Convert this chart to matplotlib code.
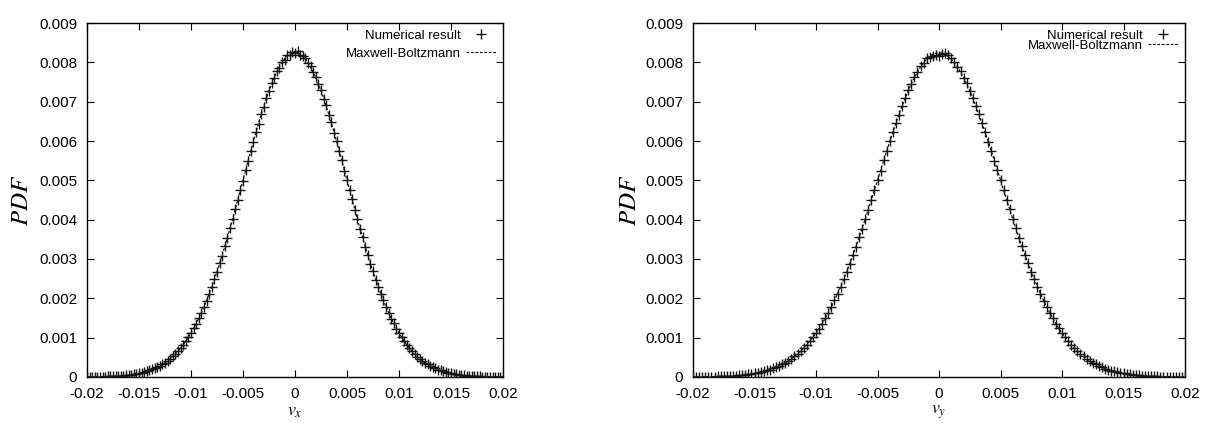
import numpy as np
import matplotlib
matplotlib.use("Agg")
import matplotlib.pyplot as plt

plt.rcParams['font.family'] = ['Liberation Sans', 'DejaVu Sans']
plt.rcParams['mathtext.fontset'] = 'stix'

# ---------------- data ----------------
v_min, v_max = -0.02, 0.02

# numerical PDF (bins of 0.00025 from -0.02 to 0.02)
pdf_vx = [
    0.000003, 0.000004, 0.000004, 0.000006, 0.000006, 0.000008, 0.000010, 0.000011, 0.000014, 0.000016,
    0.000019, 0.000022, 0.000026, 0.000031, 0.000037, 0.000043, 0.000051, 0.000059, 0.000070, 0.000081,
    0.000094, 0.000108, 0.000126, 0.000145, 0.000168, 0.000191, 0.000220, 0.000251, 0.000285, 0.000326,
    0.000368, 0.000416, 0.000470, 0.000527, 0.000592, 0.000661, 0.000741, 0.000823, 0.000915, 0.001014,
    0.001121, 0.001236, 0.001352, 0.001495, 0.001628, 0.001790, 0.001938, 0.002121, 0.002288, 0.002490,
    0.002671, 0.002890, 0.003088, 0.003325, 0.003536, 0.003785, 0.004005, 0.004268, 0.004494, 0.004762,
    0.004991, 0.005262, 0.005490, 0.005758, 0.005975, 0.006236, 0.006442, 0.006690, 0.006872, 0.007105,
    0.007262, 0.007470, 0.007598, 0.007778, 0.007862, 0.008015, 0.008062, 0.008180, 0.008185, 0.008265,
    0.008230,
    0.008290, 0.008195, 0.008172, 0.008105, 0.007980, 0.007905, 0.007745, 0.007632, 0.007441, 0.007298,
    0.007078, 0.006908, 0.006665, 0.006473, 0.006212, 0.006005, 0.005738, 0.005516, 0.005243, 0.005018,
    0.004745, 0.004518, 0.004250, 0.004028, 0.003768, 0.003556, 0.003308, 0.003105, 0.002876, 0.002685,
    0.002476, 0.002300, 0.002109, 0.001951, 0.001779, 0.001638, 0.001486, 0.001361, 0.001228, 0.001120,
    0.001006, 0.000913, 0.000815, 0.000737, 0.000653, 0.000589, 0.000519, 0.000466, 0.000408, 0.000365,
    0.000318, 0.000283, 0.000244, 0.000218, 0.000186, 0.000166, 0.000141, 0.000124, 0.000105, 0.000093,
    0.000078, 0.000069, 0.000057, 0.000050, 0.000041, 0.000036, 0.000029, 0.000025, 0.000021, 0.000018,
    0.000015, 0.000012, 0.000011, 0.000009, 0.000007, 0.000006, 0.000005, 0.000004, 0.000003, 0.000002,
]

pdf_vy = [
    0.000002, 0.000003, 0.000005, 0.000005, 0.000007, 0.000007, 0.000009, 0.000012, 0.000013, 0.000015,
    0.000019, 0.000021, 0.000026, 0.000030, 0.000037, 0.000042, 0.000050, 0.000058, 0.000069, 0.000080,
    0.000093, 0.000107, 0.000124, 0.000143, 0.000166, 0.000189, 0.000218, 0.000248, 0.000284, 0.000322,
    0.000366, 0.000412, 0.000466, 0.000525, 0.000589, 0.000658, 0.000737, 0.000820, 0.000912, 0.001011,
    0.001119, 0.001230, 0.001359, 0.001488, 0.001636, 0.001781, 0.001949, 0.002112, 0.002297, 0.002479,
    0.002682, 0.002879, 0.003101, 0.003312, 0.003549, 0.003772, 0.004022, 0.004253, 0.004511, 0.004748,
    0.005011, 0.005247, 0.005510, 0.005742, 0.005998, 0.006219, 0.006465, 0.006671, 0.006900, 0.007083,
    0.007290, 0.007448, 0.007625, 0.007752, 0.007895, 0.007978, 0.008098, 0.008125, 0.008150, 0.008175,
    0.008160,
    0.008210, 0.008240, 0.008198, 0.008110, 0.008020, 0.007880, 0.007770, 0.007605, 0.007465, 0.007272,
    0.007100, 0.006882, 0.006688, 0.006448, 0.006235, 0.005982, 0.005755, 0.005496, 0.005260, 0.004998,
    0.004760, 0.004500, 0.004265, 0.004010, 0.003782, 0.003538, 0.003322, 0.003090, 0.002888, 0.002672,
    0.002487, 0.002289, 0.002119, 0.001941, 0.001788, 0.001629, 0.001493, 0.001353, 0.001235, 0.001114,
    0.001012, 0.000907, 0.000821, 0.000731, 0.000659, 0.000583, 0.000524, 0.000461, 0.000412, 0.000361,
    0.000322, 0.000279, 0.000247, 0.000214, 0.000189, 0.000163, 0.000143, 0.000122, 0.000107, 0.000091,
    0.000080, 0.000067, 0.000059, 0.000048, 0.000043, 0.000035, 0.000031, 0.000024, 0.000022, 0.000017,
    0.000016, 0.000012, 0.000011, 0.000008, 0.000008, 0.000005, 0.000005, 0.000003, 0.000004, 0.000002,
]

# Maxwell-Boltzmann reference curve (every 0.0005 from -0.02 to 0.02)
pdf_mb = [
    0.000003, 0.000004, 0.000006, 0.000009, 0.000013, 0.000018, 0.000025, 0.000036, 0.000049, 0.000068,
    0.000092, 0.000123, 0.000164, 0.000216, 0.000281, 0.000363, 0.000463, 0.000586, 0.000734, 0.000910,
    0.001117, 0.001357, 0.001633, 0.001945, 0.002294, 0.002678, 0.003096, 0.003544, 0.004016, 0.004505,
    0.005004, 0.005503, 0.005991, 0.006457, 0.006891, 0.007281, 0.007616, 0.007887, 0.008087, 0.008209,
    0.008250,
    0.008209, 0.008087, 0.007887, 0.007616, 0.007281, 0.006891, 0.006457, 0.005991, 0.005503, 0.005004,
    0.004505, 0.004016, 0.003544, 0.003096, 0.002678, 0.002294, 0.001945, 0.001633, 0.001357, 0.001117,
    0.000910, 0.000734, 0.000586, 0.000463, 0.000363, 0.000281, 0.000216, 0.000164, 0.000123, 0.000092,
    0.000068, 0.000049, 0.000036, 0.000025, 0.000018, 0.000013, 0.000009, 0.000006, 0.000004, 0.000003,
]

x_ticks = [-0.02, -0.015, -0.01, -0.005, 0, 0.005, 0.01, 0.015, 0.02]
x_ticklabels = ['-0.02', '-0.015', '-0.01', '-0.005', '0', '0.005', '0.01', '0.015', '0.02']
y_ticks = [0, 0.001, 0.002, 0.003, 0.004, 0.005, 0.006, 0.007, 0.008, 0.009]
y_ticklabels = ['0', '0.001', '0.002', '0.003', '0.004', '0.005', '0.006', '0.007', '0.008', '0.009']

v_num = np.linspace(v_min, v_max, len(pdf_vx))
v_mb = np.linspace(v_min, v_max, len(pdf_mb))

# ---------------- figure ----------------
W, H = 1205, 424
fig = plt.figure(figsize=(W / 100, H / 100), dpi=100)

panels = [
    dict(rect=(87, 23, 503, 377), pdf=pdf_vx, xlabel=r'$v_x$', ylab_x=-0.13, legsp=0.45),
    dict(rect=(693, 23, 1185, 377), pdf=pdf_vy, xlabel=r'$v_y$', ylab_x=-0.105, legsp=-0.15),
]

for p in panels:
    x0, y0, x1, y1 = p['rect']
    ax = fig.add_axes([x0 / W, 1 - y1 / H, (x1 - x0) / W, (y1 - y0) / H])
    ax.plot(v_mb, pdf_mb, color='black', lw=0.8, ls=(0, (2.5, 1.5)), label='Maxwell-Boltzmann', zorder=2)
    ax.plot(v_num, p['pdf'], ls='none', marker='+', ms=6.5, mew=1.0, color='#151515',
            label='Numerical result', zorder=3)
    ax.set_xlim(v_min, v_max)
    ax.set_ylim(0, 0.009)
    ax.set_xticks(x_ticks)
    ax.set_xticklabels(x_ticklabels)
    ax.set_yticks(y_ticks)
    ax.set_yticklabels(y_ticklabels)
    ax.tick_params(direction='in', length=5, width=0.8, top=True, right=True,
                   labelsize=11, pad=7, colors='black')
    for s in ax.spines.values():
        s.set_linewidth(1.0)
        s.set_color('black')
    ax.set_xlabel(p['xlabel'], fontsize=13, labelpad=2)
    ax.set_ylabel(r'$PDF$', fontsize=18)
    ax.yaxis.set_label_coords(p['ylab_x'], 0.5)
    h, l = ax.get_legend_handles_labels()
    ax.legend(h[::-1], l[::-1], loc='upper right', frameon=False, markerfirst=False,
              fontsize=9.5, handlelength=2.3, handletextpad=0.4, labelspacing=p['legsp'],
              borderaxespad=0.3, borderpad=0.2)

fig.savefig('out.png', dpi=100)
